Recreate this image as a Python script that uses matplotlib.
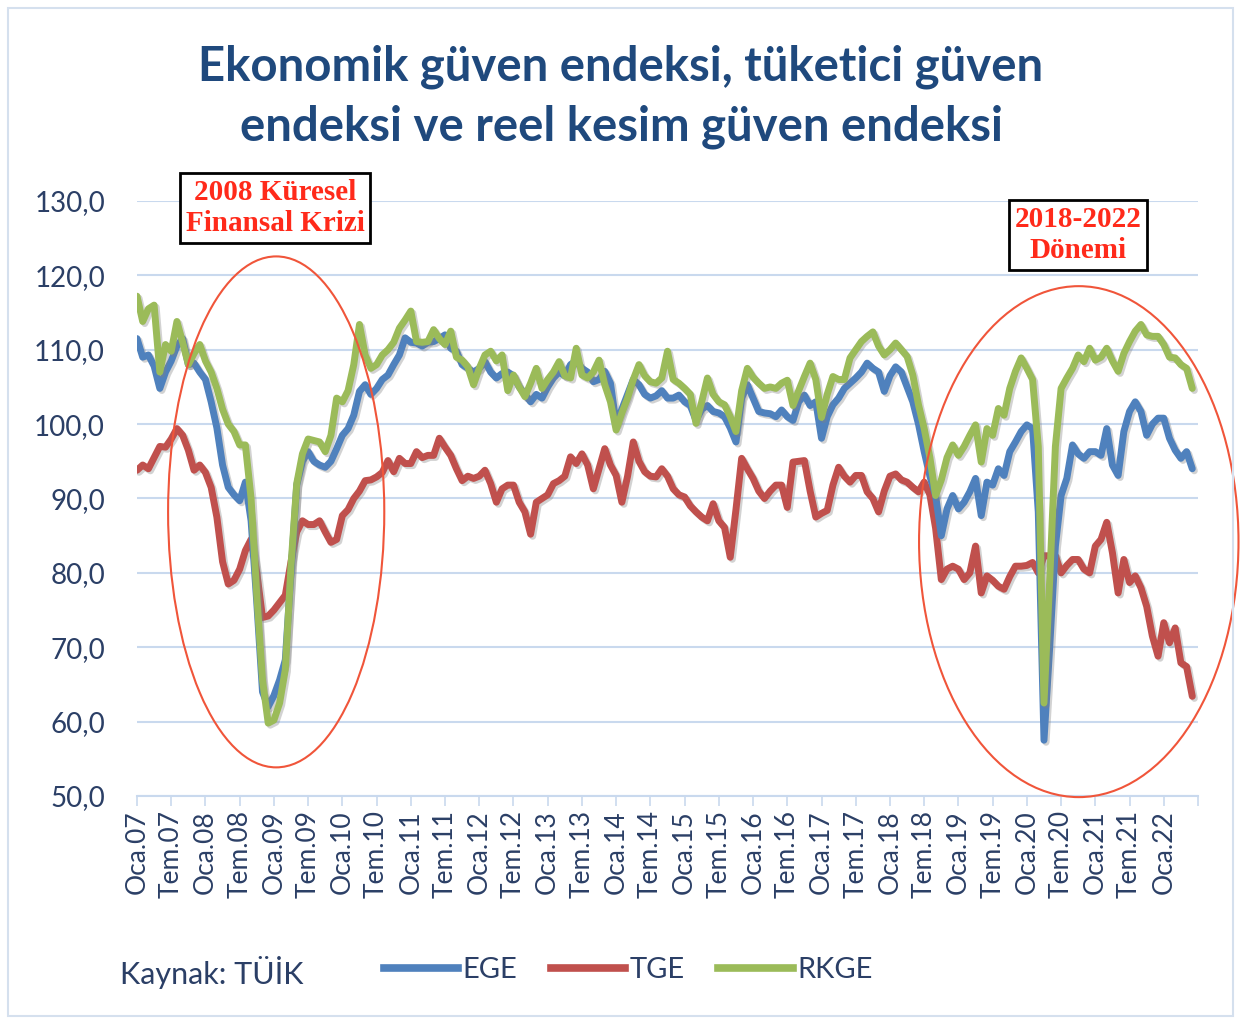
import matplotlib
matplotlib.use("Agg")
import matplotlib.pyplot as plt
import matplotlib.patheffects as pe
from matplotlib.patches import Ellipse, Rectangle
from matplotlib.lines import Line2D
import numpy as np

# Aylik veriler: Ocak 2007 - Haziran 2022
ege = [
    111.5, 109.0, 109.3, 107.8, 104.8, 107.0, 108.5, 110.5, 111.5, 108.0, 108.2, 107.0,  # 2007
    106.0, 103.0, 99.5, 94.5, 91.5, 90.5, 89.7, 92.2, 87.0, 76.0, 64.0, 62.0,            # 2008
    63.5, 65.6, 68.3, 80.0, 91.8, 95.0, 96.3, 95.0, 94.5, 94.2, 95.0, 96.7,              # 2009
    98.5, 99.4, 101.2, 104.4, 105.3, 104.0, 104.8, 106.0, 106.6, 108.0, 109.3, 111.6,    # 2010
    111.0, 110.9, 110.5, 111.0, 111.1, 111.5, 112.0, 110.2, 109.8, 108.0, 107.5, 107.0,  # 2011
    107.5, 108.4, 107.0, 106.2, 106.8, 107.0, 106.5, 105.0, 104.0, 103.0, 104.0, 103.5,  # 2012
    105.0, 106.2, 107.0, 106.5, 108.0, 108.5, 107.5, 107.0, 105.7, 106.0, 107.1, 105.5,  # 2013
    100.0, 102.0, 104.0, 106.0, 105.3, 104.0, 103.5, 103.8, 104.5, 103.5, 103.5, 103.9,  # 2014
    103.0, 102.5, 100.5, 102.0, 102.5, 101.7, 101.5, 101.0, 99.5, 97.6, 103.5, 105.3,    # 2015
    103.5, 101.7, 101.5, 101.4, 101.0, 101.9, 101.0, 100.5, 103.0, 103.9, 102.5, 103.0,  # 2016
    98.1, 101.0, 102.6, 103.5, 104.8, 105.5, 106.2, 107.0, 108.2, 107.5, 107.0, 104.4,   # 2017
    106.5, 107.7, 107.0, 105.0, 103.0, 100.0, 96.3, 93.0, 90.4, 85.0, 88.6, 90.4,        # 2018
    88.6, 89.5, 90.9, 92.7, 87.7, 92.2, 91.8, 94.0, 93.1, 96.3, 97.6, 99.0,              # 2019
    99.9, 99.4, 88.2, 57.5, 70.0, 83.6, 90.4, 92.7, 97.2, 96.0, 95.4, 96.3,              # 2020
    96.3, 95.8, 99.4, 94.5, 93.1, 99.0, 101.7, 103.0, 101.7, 98.5, 100.0, 100.8,         # 2021
    100.8, 98.1, 96.5, 95.4, 96.3, 94.0,                                                 # 2022
]

tge = [
    93.8, 94.5, 94.0, 95.5, 97.0, 96.9, 98.0, 99.4, 98.5, 96.5, 93.8, 94.5,
    93.5, 91.5, 87.5, 81.5, 78.5, 79.0, 80.5, 83.0, 84.5, 80.0, 74.0, 74.2,
    75.0, 76.0, 77.0, 81.5, 85.5, 87.0, 86.5, 86.5, 87.0, 85.5, 84.1, 84.5,
    87.7, 88.5, 90.0, 91.0, 92.4, 92.5, 92.9, 93.5, 95.1, 93.6, 95.4, 94.7,
    94.7, 96.3, 95.5, 95.8, 95.8, 98.1, 96.9, 95.8, 94.0, 92.4, 93.0, 92.7,
    93.0, 93.8, 92.0, 89.5, 91.3, 91.8, 91.8, 89.5, 88.2, 85.2, 89.5, 90.0,
    90.5, 92.0, 92.4, 93.0, 95.6, 94.7, 96.0, 94.5, 91.3, 94.0, 96.7, 94.5,
    93.1, 89.5, 93.0, 97.6, 95.0, 93.6, 93.0, 92.9, 94.0, 93.0, 91.3, 90.5,
    90.2, 89.0, 88.2, 87.5, 87.0, 89.3, 87.0, 86.1, 82.1, 88.5, 95.4, 94.0,
    92.7, 91.0, 90.0, 91.0, 91.8, 91.8, 88.8, 94.9, 95.0, 95.1, 91.0, 87.5,
    88.0, 88.4, 91.8, 94.2, 93.0, 92.2, 93.1, 93.1, 90.9, 90.0, 88.2, 91.0,
    93.0, 93.3, 92.5, 92.2, 91.5, 90.9, 92.2, 90.5, 86.0, 79.1, 80.5, 80.9,
    80.5, 79.1, 80.0, 83.6, 77.3, 79.6, 79.0, 78.2, 77.8, 79.5, 80.9, 80.9,
    81.0, 81.4, 80.0, 82.3, 82.3, 82.3, 80.0, 81.0, 81.8, 81.8, 80.5, 80.0,
    83.6, 84.5, 86.8, 82.7, 77.3, 81.8, 78.7, 79.6, 78.0, 75.5, 71.5, 68.8,
    73.3, 70.6, 72.6, 67.9, 67.4, 63.4,
]

rkge = [
    117.2, 113.8, 115.5, 116.0, 107.0, 110.7, 109.8, 113.8, 111.0, 108.0, 109.5, 110.7,
    108.5, 107.0, 104.8, 102.0, 100.0, 99.0, 97.2, 97.2, 90.0, 77.0, 65.6, 59.8,
    60.2, 62.5, 67.0, 81.0, 92.0, 96.0, 98.0, 97.8, 97.6, 96.3, 98.5, 103.5,
    103.0, 104.5, 108.0, 113.4, 109.3, 107.5, 108.0, 109.3, 110.0, 111.0, 112.9, 114.0,
    115.2, 111.1, 111.0, 111.1, 112.7, 111.5, 110.7, 112.5, 109.0, 108.6, 107.7, 105.3,
    107.5, 109.3, 109.8, 108.5, 109.3, 104.5, 106.6, 105.0, 103.7, 105.5, 107.5, 104.8,
    106.0, 107.0, 108.4, 106.5, 106.2, 110.2, 106.6, 106.2, 107.0, 108.6, 105.3, 103.0,
    99.2, 101.5, 103.5, 106.0, 108.0, 106.5, 105.7, 105.5, 106.2, 109.8, 106.0, 105.5,
    104.8, 104.0, 100.1, 103.0, 106.2, 104.0, 103.0, 102.6, 101.0, 99.0, 104.5, 107.5,
    106.3, 105.5, 104.8, 105.0, 104.8, 105.5, 105.9, 102.5, 104.5, 106.4, 108.2, 106.0,
    100.9, 104.0, 106.4, 106.0, 106.0, 108.9, 110.0, 111.1, 111.8, 112.4, 110.5, 109.3,
    110.0, 110.9, 110.0, 109.1, 106.6, 102.6, 99.4, 95.5, 90.4, 92.5, 95.5, 97.2,
    95.8, 97.0, 98.5, 99.9, 94.9, 99.4, 98.5, 102.1, 101.2, 104.8, 107.1, 108.9,
    107.5, 106.0, 97.0, 62.5, 79.0, 97.0, 104.8, 106.2, 107.5, 109.3, 108.4, 110.2,
    108.6, 109.0, 110.2, 108.5, 107.1, 109.5, 111.1, 112.5, 113.4, 112.0, 111.8, 111.8,
    110.7, 109.0, 108.9, 108.0, 107.5, 104.8,
]

years = list(range(7, 23))
tick_labels = []
for yy in years:
    tick_labels += [f"Oca.{yy:02d}", f"Tem.{yy:02d}"]
tick_labels = tick_labels[:-1]  # Oca.07 ... Oca.22

navy = "#1f497d"
txt = "#2b3f66"
grid_c = "#c9d9ee"

fig = plt.figure(figsize=(12.42, 10.21), dpi=100)
fig.patch.set_facecolor("white")

# cerceve
fig.patches.append(Rectangle((8 / 1242, 1 - 1016 / 1021), 1225 / 1242, 1008 / 1021,
                             transform=fig.transFigure, fill=False,
                             edgecolor="#d5e0ee", lw=1.5))

ax = fig.add_axes([137 / 1242, 1 - 796 / 1021, (1198 - 137) / 1242, (796 - 201) / 1021])

x = np.arange(len(ege))
shadow = [pe.SimpleLineShadow(offset=(1.5, -1.5), alpha=0.35, shadow_color="gray"), pe.Normal()]
ax.plot(x, tge, color="#c0504d", lw=5, solid_capstyle="round", path_effects=shadow, label="TGE", zorder=3)
ax.plot(x, ege, color="#4f81bd", lw=5, solid_capstyle="round", path_effects=shadow, label="EGE", zorder=4)
ax.plot(x, rkge, color="#9bbb59", lw=5, solid_capstyle="round", path_effects=shadow, label="RKGE", zorder=5)

ax.set_xlim(0, 186)
ax.set_ylim(50, 130)
ax.set_yticks(np.arange(50, 131, 10))
ax.set_yticklabels([f"{v:.1f}".replace(".", ",") for v in np.arange(50, 131, 10)])
ax.set_xticks(np.arange(0, 187, 6))
ax.set_xticklabels(tick_labels + [""], rotation=90)
ax.grid(axis="y", color=grid_c, lw=1.5)
ax.set_axisbelow(True)
for s in ["top", "right", "left"]:
    ax.spines[s].set_visible(False)
ax.spines["bottom"].set_color(grid_c)
ax.spines["bottom"].set_linewidth(1.5)
ax.tick_params(axis="y", length=0, pad=23, labelsize=20, labelcolor=txt)
ax.tick_params(axis="x", length=7, color=grid_c, width=1.2, pad=3, labelsize=19, labelcolor=txt)
for t in ax.get_yticklabels() + ax.get_xticklabels():
    t.set_fontfamily("Lato")

# elipsler
ax.add_patch(Ellipse((24.4, 88.2), 37.9, 68.7, fill=False, edgecolor="#f0553a", lw=1.5, clip_on=False, zorder=6))
ax.add_patch(Ellipse((165.1, 84.2), 56.0, 68.7, fill=False, edgecolor="#f0553a", lw=1.5, clip_on=False, zorder=6))

# kutular
box = dict(boxstyle="square,pad=0.2", facecolor="white", edgecolor="black", lw=2)
fig.text(275 / 1242, 1 - 208 / 1021, "2008 Küresel\nFinansal Krizi", ha="center", va="center",
         fontsize=21, fontweight="bold", family="Liberation Serif", color="#ff2a1a",
         linespacing=1.2, bbox=box)
fig.text(1078 / 1242, 1 - 235 / 1021, "2018-2022\nDönemi", ha="center", va="center",
         fontsize=21, fontweight="bold", family="Liberation Serif", color="#ff2a1a",
         linespacing=1.2, bbox=box)

fig.text(0.5, 1 - 97 / 1021, "Ekonomik güven endeksi, tüketici güven\nendeksi ve reel kesim güven endeksi",
         ha="center", va="center", fontsize=34, fontweight="bold", family="Lato",
         color=navy, linespacing=1.42)

fig.text(120 / 1242, 1 - 972 / 1021, "Kaynak: TÜİK", ha="left", va="center", fontsize=22,
         family="Lato", color=txt)

handles = [Line2D([], [], color="#4f81bd", lw=5.5),
           Line2D([], [], color="#c0504d", lw=5.5),
           Line2D([], [], color="#9bbb59", lw=5.5)]
leg = fig.legend(handles, ["EGE", "TGE", "RKGE"], loc="center", bbox_to_anchor=(628 / 1242, 1 - 970 / 1021),
                 ncol=3, frameon=False, handlelength=2.55, handletextpad=0.15, columnspacing=1.15,
                 prop={"family": "Lato", "size": 21})
for t in leg.get_texts():
    t.set_color(txt)

fig.savefig("out.png", dpi=100)
